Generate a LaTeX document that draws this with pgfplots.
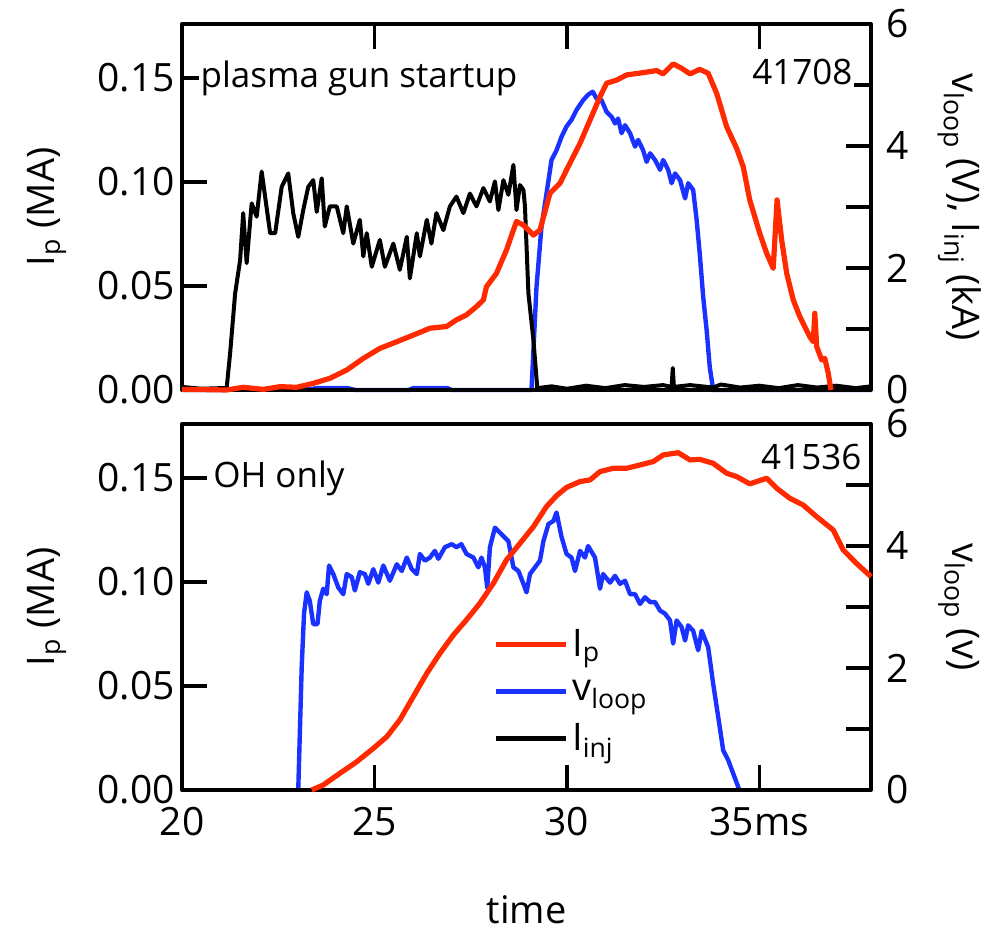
\documentclass[border=0pt]{standalone}
\usepackage{fontspec}
\setmainfont{Open Sans}
\usepackage{pgfplots}
\pgfplotsset{compat=1.18}
\definecolor{ired}{RGB}{255,42,0}
\definecolor{iblue}{RGB}{25,50,255}

\pgfplotstableread{
t v
20.00 0.05
20.50 0.02
21.00 0.03
21.16 0.03
21.25 0.60
21.38 1.58
21.51 2.13
21.59 2.90
21.68 2.08
21.81 3.06
21.94 2.84
22.07 3.58
22.29 2.57
22.42 2.57
22.59 3.33
22.76 3.55
22.89 2.90
23.02 2.51
23.15 2.95
23.28 3.33
23.41 3.44
23.50 2.92
23.63 3.47
23.71 2.68
23.84 3.01
24.02 3.01
24.19 2.57
24.28 3.01
24.45 2.40
24.62 2.79
24.71 2.19
24.80 2.57
24.93 2.02
25.14 2.46
25.27 2.02
25.49 2.40
25.66 1.97
25.84 2.51
25.92 1.83
26.10 2.57
26.18 2.19
26.36 2.79
26.48 2.40
26.61 2.90
26.79 2.62
26.96 3.01
27.13 3.17
27.31 2.90
27.48 3.22
27.65 3.01
27.83 3.31
28.00 3.09
28.13 3.42
28.22 2.95
28.35 3.44
28.48 3.20
28.61 3.69
28.69 2.95
28.78 3.36
28.87 3.28
28.91 3.01
29.00 1.58
29.13 0.82
29.23 0.03
29.60 0.06
30.00 0.02
30.50 0.07
31.00 0.03
31.50 0.08
32.00 0.05
32.50 0.08
32.72 0.05
32.75 0.36
32.78 0.05
33.20 0.08
33.80 0.04
34.00 0.09
34.50 0.04
35.00 0.07
35.50 0.03
36.00 0.08
36.50 0.04
37.00 0.07
37.50 0.03
37.90 0.06
}\topinj

\pgfplotstableread{
t v
20.00 0.00
23.30 0.01
23.50 0.03
24.30 0.03
24.50 0.00
25.90 0.00
26.00 0.03
26.90 0.03
27.00 0.00
29.08 0.00
29.21 1.69
29.34 2.68
29.47 3.22
29.60 3.77
29.73 3.93
29.86 4.15
29.99 4.32
30.12 4.43
30.25 4.59
30.42 4.75
30.55 4.84
30.67 4.89
30.77 4.78
30.90 4.75
31.03 4.56
31.16 4.48
31.25 4.37
31.33 4.45
31.42 4.21
31.51 4.34
31.64 4.21
31.77 3.99
31.85 4.10
31.98 3.93
32.07 3.74
32.16 3.88
32.29 3.77
32.42 3.61
32.50 3.77
32.63 3.61
32.72 3.39
32.81 3.55
32.94 3.44
33.07 3.14
33.15 3.39
33.28 3.28
33.37 2.79
33.45 2.24
33.54 1.53
33.63 0.98
33.71 0.38
33.80 0.00
37.90 0.00
}\topvloop

\pgfplotstableread{
t ip
20.00 0.0003
20.50 0.0002
21.16 0.0000
21.59 0.0013
22.11 0.0003
22.55 0.0016
22.98 0.0013
23.41 0.0032
23.84 0.0056
24.28 0.0096
24.71 0.0152
25.14 0.0200
25.58 0.0232
26.01 0.0264
26.44 0.0297
26.87 0.0305
27.13 0.0337
27.39 0.0361
27.65 0.0401
27.83 0.0433
27.91 0.0497
28.17 0.0561
28.43 0.0673
28.61 0.0769
28.69 0.0810
28.87 0.0793
29.13 0.0745
29.30 0.0769
29.56 0.0946
29.82 0.0994
29.99 0.1058
30.34 0.1186
30.60 0.1298
30.86 0.1410
31.03 0.1475
31.29 0.1490
31.55 0.1515
31.98 0.1526
32.33 0.1536
32.50 0.1520
32.76 0.1568
32.98 0.1547
33.20 0.1520
33.45 0.1542
33.67 0.1523
33.89 0.1427
34.15 0.1266
34.41 0.1162
34.58 0.1074
34.75 0.0914
35.01 0.0753
35.19 0.0657
35.36 0.0585
35.46 0.0914
35.58 0.0721
35.71 0.0561
35.88 0.0433
36.05 0.0353
36.31 0.0256
36.40 0.0232
36.44 0.0369
36.49 0.0208
36.62 0.0144
36.70 0.0152
36.79 0.0080
36.86 0.0000
}\topip

\pgfplotstableread{
t v
23.02 0.00
23.11 2.02
23.17 2.89
23.24 3.24
23.32 3.10
23.41 2.72
23.52 2.72
23.58 3.10
23.67 3.30
23.76 3.21
23.82 3.68
23.93 3.54
24.06 3.32
24.19 3.21
24.28 3.54
24.41 3.49
24.49 3.27
24.62 3.57
24.75 3.54
24.84 3.38
24.97 3.62
25.10 3.40
25.23 3.68
25.40 3.43
25.58 3.70
25.71 3.59
25.84 3.81
25.97 3.62
26.10 3.54
26.18 3.87
26.31 3.76
26.44 3.81
26.57 3.92
26.66 3.79
26.83 3.98
27.01 4.03
27.13 3.98
27.26 4.03
27.39 3.87
27.57 3.81
27.70 3.65
27.78 3.81
27.87 3.65
27.93 3.32
28.00 3.98
28.13 4.30
28.26 4.22
28.48 4.08
28.61 3.65
28.74 3.59
28.87 3.38
28.95 3.24
29.04 3.54
29.17 3.65
29.30 3.76
29.39 4.08
29.52 4.36
29.65 4.41
29.73 4.55
29.86 4.15
29.99 3.87
30.12 3.81
30.21 3.59
30.34 3.92
30.47 3.81
30.55 4.00
30.73 3.81
30.86 3.30
30.94 3.54
31.12 3.40
31.25 3.51
31.38 3.38
31.51 3.43
31.64 3.21
31.77 3.21
31.90 3.05
32.03 3.16
32.16 3.08
32.29 3.08
32.42 2.94
32.55 2.89
32.68 2.78
32.76 2.40
32.85 2.78
32.98 2.67
33.07 2.45
33.15 2.70
33.28 2.61
33.41 2.29
33.50 2.61
33.67 2.34
33.80 1.74
33.93 1.20
34.06 0.65
34.19 0.49
34.32 0.27
34.48 0.00
}\botvloop

\pgfplotstableread{
t ip
23.37 0.0000
23.67 0.0024
24.10 0.0080
24.54 0.0136
24.97 0.0200
25.32 0.0256
25.66 0.0337
26.01 0.0449
26.36 0.0561
26.70 0.0657
27.05 0.0745
27.39 0.0818
27.74 0.0898
28.09 0.0994
28.43 0.1106
28.78 0.1186
29.13 0.1266
29.47 0.1363
29.73 0.1415
29.99 0.1455
30.34 0.1483
30.60 0.1491
30.86 0.1531
31.20 0.1547
31.55 0.1547
31.90 0.1563
32.24 0.1579
32.50 0.1611
32.89 0.1622
33.20 0.1587
33.45 0.1590
33.80 0.1571
34.15 0.1523
34.41 0.1507
34.75 0.1472
34.93 0.1483
35.19 0.1499
35.45 0.1451
35.79 0.1403
36.14 0.1370
36.49 0.1314
36.92 0.1250
37.18 0.1154
37.52 0.1090
37.90 0.1026
}\botip

\tikzset{txt/.style={fill=white, inner sep=1pt, font=\fontsize{17.5}{19}\selectfont}}

\pgfplotsset{
  common/.style={
    scale only axis, width=344.5pt, height=183pt,
    xmin=20, xmax=37.9,
    clip=false,
    tick align=inside,
    major tick length=12.5pt,
    axis line style={line width=2pt},
    tick style={line width=1.6pt, black},
    /pgf/number format/assume math mode=true,
    tick label style={font=\fontsize{19.5}{21}\selectfont},
    label style={font=\fontsize{19}{21}\selectfont},
  },
  rightax/.style={
    common,
    axis y line*=right, axis x line=none,
    ymin=0, ymax=6,
    ytick={0,1,2,3,4,5,6}, yticklabels={0,,2,,4,,6},
    yticklabel style={xshift=4pt},
    ylabel style={rotate=180, at={(axis description cs:1.128,0.5)}, anchor=center},
  },
  leftax/.style={
    common,
    ymin=0, ymax=0.176,
    ytick={0,0.05,0.10,0.15}, yticklabels={0.00,0.05,0.10,0.15},
    ytick pos=left,
    xmajorticks=true,
    ylabel={I\textsubscript{p} (MA)},
    ylabel style={at={(axis description cs:-0.196,0.5)}, anchor=center},
  },
}

\begin{document}
\begin{tikzpicture}[line join=round]
\useasboundingbox (-91pt,-70pt) rectangle (405pt,395pt);

% ---------- top panel ----------
\begin{axis}[rightax, at={(0,200pt)},
  ylabel={v\textsubscript{loop} (V), I\textsubscript{inj} (kA)}]
\addplot[iblue, line width=2.2pt, mark=none] table[x=t,y=v] {\topvloop};
\addplot[black, line width=2pt, mark=none] table[x=t,y=v] {\topinj};
\end{axis}
\begin{axis}[leftax, at={(0,200pt)},
  xtick={25,30,35}, xtick pos=top, xticklabels={,,}]
\addplot[ired, line width=2.6pt, mark=none] table[x=t,y=ip] {\topip};
\node[txt, anchor=west] at (axis cs:20.42,0.15) {plasma gun startup};
\node[txt, anchor=east] at (axis cs:37.48,0.153) {41708};
\end{axis}

% ---------- bottom panel ----------
\begin{axis}[rightax, at={(0,0)},
  ylabel={v\textsubscript{loop} (v)}]
\addplot[iblue, line width=2.2pt, mark=none] table[x=t,y=v] {\botvloop};
\end{axis}
\begin{axis}[leftax, at={(0,0)},
  xtick={20,25,30,35}, xtick pos=bottom, xticklabels={20,25,30,35ms},
  xticklabel style={yshift=-5pt},
  xlabel={time},
  xlabel style={at={(axis description cs:0.5,-0.328)}, anchor=center},
  legend cell align=left,
  legend style={draw=none, fill=none, at={(axis description cs:0.451,0.45)}, anchor=north west,
    font=\fontsize{19}{21}\selectfont, row sep=6pt, inner sep=0pt},
  legend image code/.code={\draw[#1] (0pt,0pt) -- (35pt,0pt);}]
\addplot[ired, line width=2.6pt, mark=none] table[x=t,y=ip] {\botip};
\addlegendentry{I\textsubscript{p}}
\addlegendimage{iblue, line width=2.4pt}
\addlegendentry{v\textsubscript{loop}}
\addlegendimage{black, line width=2.4pt}
\addlegendentry{I\textsubscript{inj}}
\node[txt, anchor=west] at (axis cs:20.75,0.15) {OH only};
\node[txt, anchor=east] at (axis cs:37.71,0.160) {41536};
\end{axis}
\end{tikzpicture}
\end{document}
